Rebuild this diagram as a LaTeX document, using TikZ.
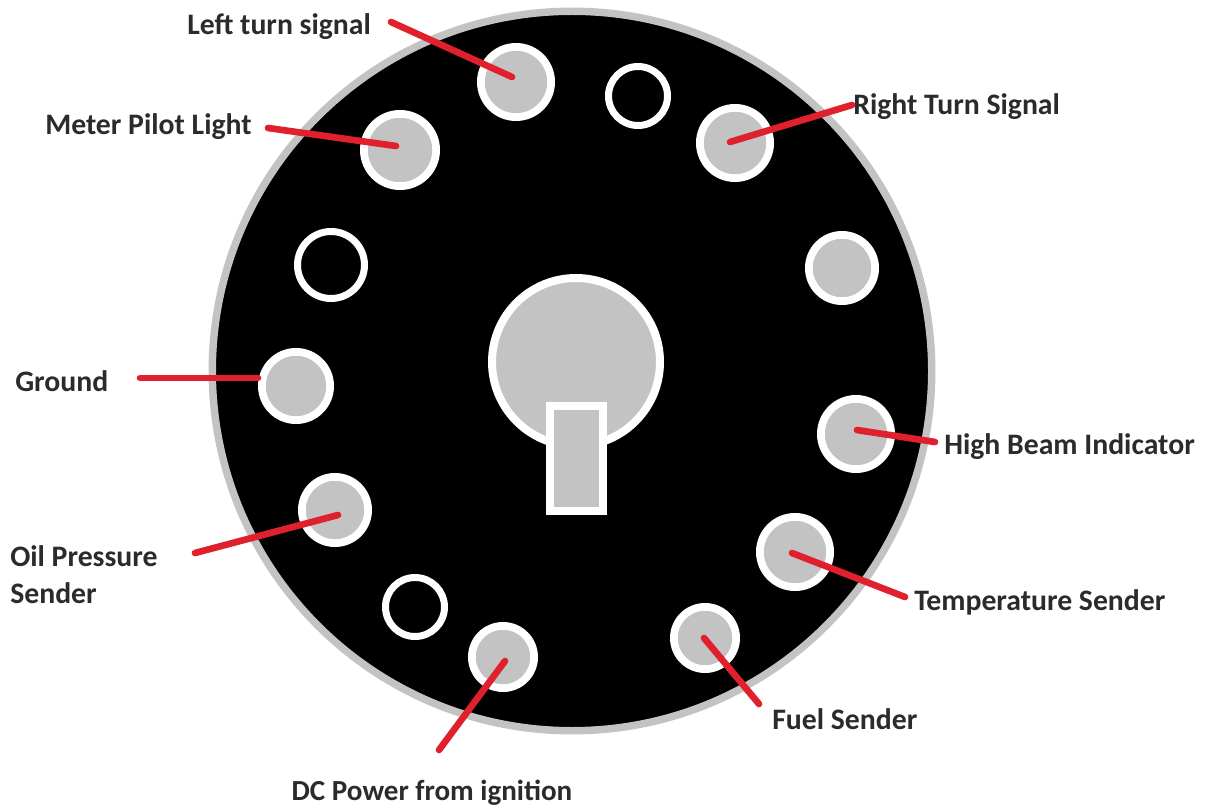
\documentclass[tikz,border=0pt]{standalone}
\usepackage{xcolor}
\usepackage{fontspec}
\setmainfont{Carlito}
\usetikzlibrary{positioning,calc}
\definecolor{pingray}{HTML}{C3C3C3}
\definecolor{leadred}{HTML}{E0202C}
\definecolor{labeltext}{HTML}{2B2B2B}
\tikzset{
  platenode/.style={circle,draw=pingray,line width=5.6pt,fill=black,inner sep=0pt},
  pinnode/.style={circle,draw=white,line width=5.8pt,fill=pingray,inner sep=0pt},
  holenode/.style={circle,draw=white,line width=5.25pt,fill=black,inner sep=0pt},
  keynode/.style={rectangle,draw=white,line width=6pt,fill=pingray,inner sep=0pt},
  labelnode/.style={font=\fontsize{22.3}{27.5}\selectfont\bfseries,text=labeltext,align=left,inner sep=0pt},
  leader/.style={line width=5pt,draw=leadred,line cap=round},
}
\begin{document}
\begin{tikzpicture}[x=0.75pt,y=-0.75pt]
  \useasboundingbox (0,0) rectangle (1209,809);
  \node[platenode,minimum size=539.6pt] (plate) at (572,371) {};
  % centre post and key
  \node[pinnode,line width=6pt,minimum size=126pt] (post) at (576,362) {};
  \node[keynode,minimum width=40pt,minimum height=79pt] (key) at (576.5,458.5) {};
  % pins in use
  \foreach \n/\x/\y/\r in {pl/516/82/39,pr/735/143/39,ps/842/268/37,ph/856/434/39,pt/795/552/39,pf/705/638/35,pd/503/657/35,po/335/510/37,pg/296/386/38,pm/400/150/40}{
    \node[pinnode,minimum size=2*\r*0.75pt-5.8pt] (\n) at (\x,\y) {};
  }
  % empty holes
  \foreach \n/\x/\y/\r in {ha/638/96/33,hb/331/265/37,hc/415/607/33}{
    \node[holenode,minimum size=2*\r*0.75pt-5.25pt] (\n) at (\x,\y) {};
  }
  % labels
  \node[labelnode,anchor=west] (ll) at (187,27) {Left turn signal};
  \node[labelnode,anchor=west] (lm) at (45,127) {Meter Pilot Light};
  \node[labelnode,anchor=west] (lr) at (853,107) {Right Turn Signal};
  \node[labelnode,anchor=west] (lg) at (15,381) {Ground};
  \node[labelnode,anchor=west] (lo) at (10,575) {Oil Pressure\\Sender};
  \node[labelnode,font=\fontsize{21.8}{27.5}\selectfont\bfseries] (ld) at (432,793) {DC Power from ignition};
  \node[labelnode,anchor=west] (lf) at (772,719) {Fuel Sender};
  \node[labelnode,anchor=west] (lt) at (914,602) {Temperature Sender};
  \node[labelnode,anchor=west] (lh) at (944,447) {High Beam Indicator};
  % free ends of the leaders
  \coordinate (el) at (391,22);
  \coordinate (em) at (268,128);
  \coordinate (er) at (852,105);
  \coordinate (eg) at (140,378);
  \coordinate (eo) at (195,553);
  \coordinate (ed) at (439,750);
  \coordinate (ef) at (759,704);
  \coordinate (et) at (905,597);
  \coordinate (eh) at (935,442);
  \draw[leader] (el) -- ($(pl)+(-4,-5)$);
  \draw[leader] (em) -- ($(pm)+(-4,-4)$);
  \draw[leader] (er) -- ($(pr)+(-5,-1)$);
  \draw[leader] (eg) -- ($(pg)+(-38,-8)$);
  \draw[leader] (eo) -- ($(po)+(3,5)$);
  \draw[leader] (ed) -- ($(pd)+(2,4)$);
  \draw[leader] (ef) -- ($(pf)+(-1,0)$);
  \draw[leader] (et) -- ($(pt)+(-3,1)$);
  \draw[leader] (eh) -- ($(ph)+(1,-4)$);
\end{tikzpicture}
\end{document}
